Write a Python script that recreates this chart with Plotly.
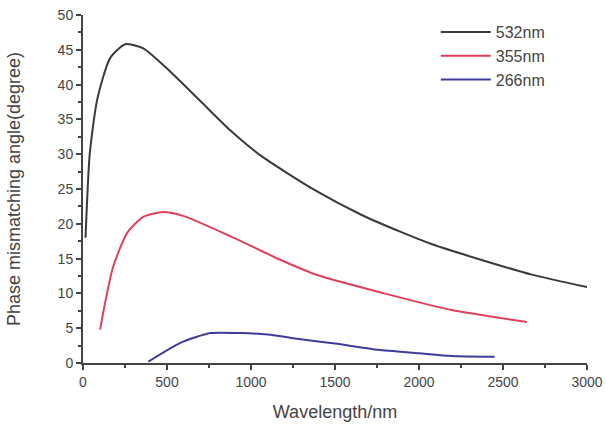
import plotly.graph_objects as go

# 532 nm series
wl_532 = [15, 40, 84, 161, 251, 359, 500, 700, 878, 1058, 1375, 1656, 1895, 2074, 2373, 2672, 3000]
ang_532 = [18.0, 30.0, 37.8, 43.8, 45.8, 45.2, 42.3, 37.6, 33.4, 29.8, 24.9, 21.3, 18.8, 17.1, 14.8, 12.7, 10.9]

# 355 nm series
wl_355 = [102, 131, 179, 263, 359, 478, 600, 879, 1177, 1399, 1793, 2194, 2642]
ang_355 = [4.8, 8.6, 13.8, 18.7, 21.0, 21.7, 21.1, 18.2, 14.8, 12.6, 10.0, 7.6, 5.9]

# 266 nm series
wl_266 = [389, 580, 759, 938, 1100, 1297, 1500, 1757, 2000, 2194, 2450]
ang_266 = [0.2, 2.9, 4.3, 4.3, 4.1, 3.4, 2.8, 1.9, 1.4, 1.0, 0.9]

x_ticks = [0, 500, 1000, 1500, 2000, 2500, 3000]
y_ticks = [0, 5, 10, 15, 20, 25, 30, 35, 40, 45, 50]

series = [
    ("532nm", wl_532, ang_532, "#3a3a3a"),
    ("355nm", wl_355, ang_355, "#e0405c"),
    ("266nm", wl_266, ang_266, "#3d3c9c"),
]

fig = go.Figure()
for name, xs, ys, col in series:
    fig.add_trace(go.Scatter(x=xs, y=ys, mode="lines", name=name,
                             line=dict(color=col, width=2, shape="spline", smoothing=0.6)))

FONT = "Liberation Sans, Arial, sans-serif"
fig.update_layout(
    width=606, height=425,
    margin=dict(l=83, r=19, t=15, b=62),
    paper_bgcolor="white", plot_bgcolor="white",
    font=dict(family=FONT, size=14, color="#444"),
    showlegend=True,
    legend=dict(x=0.70, y=1.0, xanchor="left", yanchor="top",
                font=dict(family=FONT, size=16, color="#444"),
                bgcolor="rgba(0,0,0,0)", itemwidth=50, tracegroupgap=0),
)
fig.update_xaxes(range=[0, 3000], tickvals=x_ticks, showgrid=False, zeroline=False,
                 automargin=False,
                 showline=True, linecolor="#444", linewidth=2, ticks="outside",
                 ticklen=5, tickwidth=1.5, tickcolor="#444",
                 minor=dict(dtick=250, ticks="outside", ticklen=3, tickcolor="#444", showgrid=False),
                 title=dict(text="Wavelength/nm", font=dict(family=FONT, size=18, color="#444"), standoff=17))
fig.update_yaxes(range=[0, 50], tickvals=y_ticks, showgrid=False, zeroline=False,
                 automargin=False,
                 showline=True, linecolor="#444", linewidth=2, ticks="outside",
                 ticklen=5, tickwidth=1.5, tickcolor="#444",
                 minor=dict(dtick=2.5, ticks="outside", ticklen=3, tickcolor="#444", showgrid=False),
                 title=dict(text="Phase mismatching angle(degree)", font=dict(family=FONT, size=18, color="#444"), standoff=32))

fig.write_html("out.html", config={"displayModeBar": False},
               post_script="document.body.style.margin='0';")
